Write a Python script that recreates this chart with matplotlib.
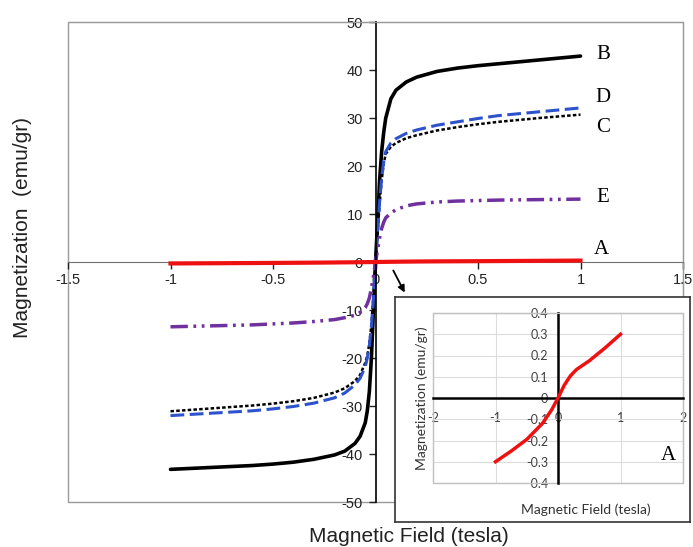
import numpy as np
import matplotlib
matplotlib.use("Agg")
import matplotlib.pyplot as plt
from matplotlib.patches import Rectangle

plt.rcParams['font.family'] = ['Liberation Sans', 'DejaVu Sans']
plt.rcParams['axes.unicode_minus'] = False

# magnetic field (tesla), shared by curves B-E
field = [-1.0, -0.8, -0.6, -0.5, -0.4, -0.3, -0.2, -0.15, -0.1, -0.075, -0.05, -0.04, -0.03, -0.02, -0.01,
         0.0, 0.01, 0.02, 0.03, 0.04, 0.05, 0.075, 0.1, 0.15, 0.2, 0.3, 0.4, 0.5, 0.6, 0.8, 1.0]

mag_B = [-43.2, -42.8, -42.4, -42.1, -41.7, -41.1, -40.2, -39.4, -37.8, -36.3, -33.5, -31.0, -27.0, -20.0, -10.0,
         0.0, 8.0, 17.0, 23.0, 27.0, 30.0, 34.0, 35.8, 37.5, 38.5, 39.7, 40.4, 40.9, 41.3, 42.1, 42.9]
mag_C = [-31.1, -30.5, -29.9, -29.5, -29.0, -28.3, -27.2, -26.3, -24.8, -23.5, -21.0, -19.5, -17.0, -13.0, -7.0,
         0.0, 6.0, 12.0, 17.0, 20.5, 22.5, 24.0, 24.8, 25.8, 26.4, 27.4, 28.1, 28.7, 29.2, 30.0, 30.7]
mag_D = [-32.0, -31.5, -31.0, -30.6, -30.1, -29.4, -28.3, -27.3, -25.6, -24.2, -21.8, -20.0, -17.5, -13.5, -7.5,
         0.0, 6.5, 12.5, 17.5, 21.0, 23.0, 24.8, 25.7, 26.8, 27.5, 28.5, 29.2, 29.9, 30.5, 31.3, 32.1]
mag_E = [-13.5, -13.3, -13.1, -12.9, -12.7, -12.4, -12.0, -11.6, -11.1, -10.5, -9.5, -8.7, -7.5, -5.5, -3.0,
         0.0, 2.5, 5.0, 7.0, 8.3, 9.2, 10.2, 10.9, 11.7, 12.1, 12.5, 12.7, 12.8, 12.9, 13.0, 13.1]

# sample A (small signal, shown in inset)
field_A = [-1.0, -0.75, -0.5, -0.25, -0.1, 0.0, 0.05, 0.1, 0.2, 0.3, 0.5, 0.75, 1.0]
mag_A = [-0.30, -0.25, -0.195, -0.12, -0.055, 0.0, 0.03, 0.06, 0.105, 0.135, 0.175, 0.235, 0.30]

main_xticks = [-1.5, -1, -0.5, 0, 0.5, 1, 1.5]
main_xlabels = ['-1.5', '-1', '-0.5', '0', '0.5', '1', '1.5']
main_yticks = [-50, -40, -30, -20, -10, 0, 10, 20, 30, 40, 50]
inset_xticks = [-2, -1, 0, 1, 2]
inset_xlabels = ['-2', '-1', '0', '1', '2']
inset_yticks = [-0.4, -0.3, -0.2, -0.1, 0, 0.1, 0.2, 0.3, 0.4]
inset_ylabels = ['-0.4', '-0.3', '-0.2', '-0.1', '0', '0.1', '0.2', '0.3', '0.4']

W, H = 693, 547
fig = plt.figure(figsize=(W / 100, H / 100), dpi=100)

def fx(px):
    return px / W

def fy(py):
    return 1 - py / H

# main plot
ax = fig.add_axes([fx(68), fy(502), (683 - 68) / W, (502 - 22) / H])
ax.set_xlim(-1.5, 1.5)
ax.set_ylim(-50, 50)

ax.plot(field, mag_B, color='black', lw=2.6, solid_capstyle='round')
ax.plot(field, mag_C, color='black', lw=1.8, dashes=(1.4, 0.9))
ax.plot(field, mag_D, color='#2d52cc', lw=2.2, dashes=(4.5, 1.8))
ax.plot(field, mag_E, color='#7030a0', lw=2.5, dashes=(5, 1.6, 0.8, 1.6, 0.8, 1.6))
ax.plot(field_A, mag_A, color='#ee1111', lw=3, zorder=5)

for s in ['top', 'right']:
    ax.spines[s].set_color('#9a9a9a')
ax.spines['left'].set_position(('data', 0))
ax.spines['bottom'].set_position(('data', 0))
ax.spines['left'].set_color('black')
ax.spines['left'].set_linewidth(1.2)
ax.spines['bottom'].set_color('#707070')
ax.add_patch(Rectangle((0, 0), 1, 1, transform=ax.transAxes, fill=False,
                       ec='#9a9a9a', lw=1, clip_on=False))

ax.set_xticks(main_xticks)
ax.set_xticklabels(main_xlabels)
ax.set_yticks(main_yticks)
ax.tick_params(axis='both', direction='out', length=5, width=1, labelsize=10.5,
               colors='#222222')
ax.tick_params(axis='y', pad=4)
ax.tick_params(axis='x', pad=3)

ax.text(1.11, 43.3, 'B', family='Liberation Serif', fontsize=15, ha='center', va='center')
ax.text(1.11, 34.2, 'D', family='Liberation Serif', fontsize=15, ha='center', va='center')
ax.text(1.11, 28.1, 'C', family='Liberation Serif', fontsize=15, ha='center', va='center')
ax.text(1.11, 13.5, 'E', family='Liberation Serif', fontsize=15, ha='center', va='center')
ax.text(1.10, 2.7, 'A', family='Liberation Serif', fontsize=15, ha='center', va='center')

fig.text(fx(23), fy(227), 'Magnetization  (emu/gr)', rotation=90, fontsize=15,
         ha='center', va='center', color='#222222')
fig.text(fx(409), fy(537), 'Magnetic Field (tesla)', fontsize=15,
         ha='center', va='center', color='#222222')

ax.annotate('', xy=(fx(406), fy(295)), xytext=(fx(392), fy(268)),
            xycoords='figure fraction', textcoords='figure fraction',
            arrowprops=dict(arrowstyle='-|>', color='black', lw=1.3, mutation_scale=10))

# inset frame
box = fig.add_axes([fx(395), fy(522), (690 - 395) / W, (522 - 297) / H])
box.set_xticks([])
box.set_yticks([])
for s in box.spines.values():
    s.set_color('#333333')
    s.set_linewidth(1.2)

# inset plot
ins = fig.add_axes([fx(433), fy(483), (683 - 433) / W, (483 - 313) / H])
ins.set_xlim(-2, 2)
ins.set_ylim(-0.4, 0.4)
ins.plot(field_A, mag_A, color='#ee1111', lw=2.5, zorder=5)
ins.set_xticks(inset_xticks)
ins.set_xticklabels(inset_xlabels)
ins.set_yticks(inset_yticks)
ins.set_yticklabels(inset_ylabels)
ins.grid(True, color='#dcdcdc', lw=0.8)
ins.set_axisbelow(True)
for s in ['top', 'right']:
    ins.spines[s].set_color('#c0c0c0')
ins.spines['left'].set_position(('data', 0))
ins.spines['bottom'].set_position(('data', 0))
ins.spines['left'].set_linewidth(1.8)
ins.spines['bottom'].set_linewidth(1.8)
ins.add_patch(Rectangle((0, 0), 1, 1, transform=ins.transAxes, fill=False,
                        ec='#c0c0c0', lw=1, clip_on=False))
ins.tick_params(axis='both', length=0, labelsize=9, colors='#404040')
for lab in ins.get_xticklabels() + ins.get_yticklabels():
    lab.set_family(['Lato', 'DejaVu Sans'])
ins.tick_params(axis='x', pad=10)
ins.tick_params(axis='y', pad=7)
ins.text(-0.045, 0.5, 'Magnetization (emu/gr)', transform=ins.transAxes, rotation=90,
         fontsize=10, family=['Lato', 'DejaVu Sans'], ha='center', va='center', color='#333333')
ins.text(0.61, -0.16, 'Magnetic Field (tesla)', transform=ins.transAxes,
         fontsize=10, family=['Lato', 'DejaVu Sans'], ha='center', va='center', color='#333333')
ins.text(0.94, 0.16, 'A', transform=ins.transAxes, family='Liberation Serif',
         fontsize=15, ha='center', va='center')

fig.savefig('out.png', dpi=100)
